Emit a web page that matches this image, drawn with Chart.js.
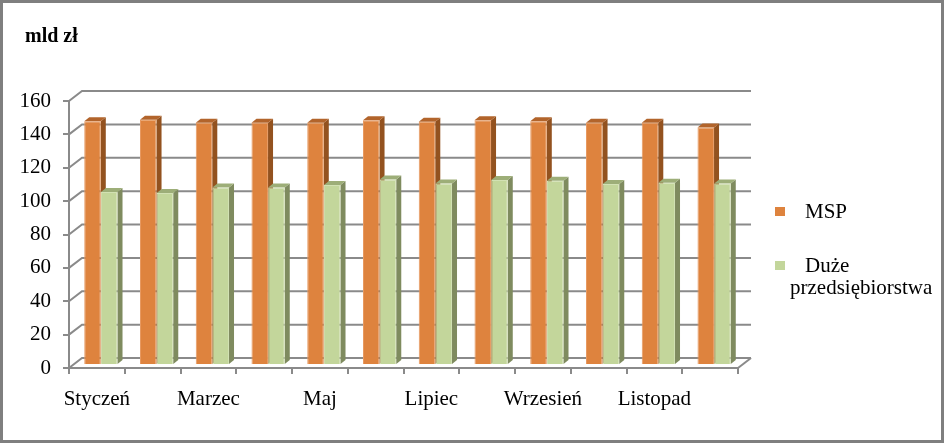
<!DOCTYPE html>
<html lang="pl">
<head>
<meta charset="UTF-8">
<title>MSP i duże przedsiębiorstwa</title>
<script src="https://cdn.jsdelivr.net/npm/chart.js"></script>
<style>
  body { margin: 0; background: #fff; }
  #ramka { position: relative; width: 946px; height: 445px; }
  #ramka canvas { position: absolute; left: 0; top: 0; }
  #obwod { position: absolute; left: 0; top: 0; width: 944px; height: 443px; box-sizing: border-box;
           border: 3px solid #7f7f7f; pointer-events: none; }
</style>
</head>
<body>
<div id="ramka">
  <canvas id="wykres" width="946" height="445"></canvas>
  <div id="obwod"></div>
</div>

<script>
  const miesiace = ['Styczeń', 'Luty', 'Marzec', 'Kwiecień', 'Maj', 'Czerwiec', 'Lipiec',
                    'Sierpień', 'Wrzesień', 'Październik', 'Listopad', 'Grudzień'];
  const msp = [146.1, 146.9, 145.1, 145.1, 145.1, 146.7, 145.7, 146.7, 146.1, 145.1, 145.1, 142.3];
  const duze = [103.6, 103.0, 106.4, 106.4, 107.8, 111.2, 108.8, 110.8, 110.4, 108.4, 109.2, 108.8];
  const osY = [0, 20, 40, 60, 80, 100, 120, 140, 160];

  const szary = '#8a8a8a';
  const czcionka = '"Liberation Serif", "Times New Roman", serif';

  // kolory scian slupkow: przod, bok, gora
  const kolory = [
    { przod: '#de833e', bok: '#93521f', gora: '#b2642b', brzeg: '#e79a62' },
    { przod: '#c3d69b', bok: '#7f8b5f', gora: '#9dae78', brzeg: '#d2e1b3' }
  ];

  // przesuniecie sciany tylnej i slupkow (efekt 3D)
  const GL = 13, GD = 10;
  const PX = 4, PY = 3;
  const BX = 5, BY = 4;

  const sciany = {
    id: 'sciany',
    beforeDatasetsDraw(chart) {
      const ctx = chart.ctx, y = chart.scales.y, a = chart.chartArea;
      ctx.save();
      ctx.strokeStyle = szary;
      ctx.lineWidth = 2;
      osY.forEach(v => {
        const py = y.getPixelForValue(v);
        ctx.beginPath();
        ctx.moveTo(a.left, py);
        ctx.lineTo(a.left + GL, py - GD);
        ctx.lineTo(a.right + GL, py - GD);
        ctx.stroke();
      });
      ctx.beginPath();
      ctx.moveTo(a.right, a.bottom);
      ctx.lineTo(a.right + GL, a.bottom - GD);
      ctx.stroke();

      // slupki rysowane troche w glab
      ctx.translate(PX, -PY);
      for (let i = 0; i < miesiace.length; i++) {
        chart.data.datasets.forEach((ds, d) => {
          const el = chart.getDatasetMeta(d).data[i];
          const p = el.getProps(['x', 'y', 'base', 'width'], true);
          const l = p.x - p.width / 2, r = p.x + p.width / 2;
          ctx.fillStyle = kolory[d].bok;
          ctx.beginPath();
          ctx.moveTo(r, p.y);
          ctx.lineTo(r + BX, p.y - BY);
          ctx.lineTo(r + BX, p.base - BY);
          ctx.lineTo(r, p.base);
          ctx.closePath();
          ctx.fill();
          ctx.fillStyle = kolory[d].gora;
          ctx.beginPath();
          ctx.moveTo(l, p.y);
          ctx.lineTo(l + BX, p.y - BY);
          ctx.lineTo(r + BX, p.y - BY);
          ctx.lineTo(r, p.y);
          ctx.closePath();
          ctx.fill();
        });
      }
    },
    afterDatasetsDraw(chart) {
      chart.ctx.restore();
    },
    afterDraw(chart) {
      const ctx = chart.ctx;
      ctx.save();
      ctx.fillStyle = '#000';
      ctx.textBaseline = 'alphabetic';
      ctx.font = 'bold 20px ' + czcionka;
      ctx.fillText('mld zł', 25, 42);

      // legenda
      ctx.font = '21px ' + czcionka;
      ctx.fillStyle = kolory[0].przod;
      ctx.fillRect(775, 207, 10, 9);
      ctx.fillStyle = kolory[1].przod;
      ctx.fillRect(775, 261, 10, 9);
      ctx.fillStyle = '#000';
      ctx.fillText(chart.data.datasets[0].label, 805, 218);
      const slowa = chart.data.datasets[1].label.split(' ');
      ctx.fillText(slowa[0], 805, 271.5);
      ctx.fillText(slowa[1], 790, 293.5);
      ctx.restore();
    }
  };

  const ctx = document.getElementById('wykres').getContext('2d');
  const wykres = new Chart(ctx, {
    type: 'bar',
    data: {
      labels: miesiace,
      datasets: [{
        label: 'MSP',
        data: msp,
        backgroundColor: kolory[0].przod,
        borderColor: kolory[0].brzeg,
        borderWidth: 1,
        categoryPercentage: 0.6,
        barPercentage: 0.99
      }, {
        label: 'Duże przedsiębiorstwa',
        data: duze,
        backgroundColor: kolory[1].przod,
        borderColor: kolory[1].brzeg,
        borderWidth: 1,
        categoryPercentage: 0.6,
        barPercentage: 0.99
      }]
    },
    options: {
      responsive: false,
      animation: false,
      layout: { padding: { left: 0, top: 101, right: 208, bottom: 0 } },
      plugins: {
        legend: { display: false },
        tooltip: { enabled: false }
      },
      scales: {
        x: {
          ticks: {
            autoSkip: false,
            maxRotation: 0,
            padding: 13,
            color: '#000',
            font: { family: czcionka, size: 21 },
            callback(v, i) { return i % 2 === 0 ? this.getLabelForValue(v) : ''; }
          },
          grid: { drawOnChartArea: false, offset: true, tickLength: 6, color: szary, lineWidth: 2 },
          border: { display: true, color: szary, width: 2 },
          afterFit(s) { s.height = 77; }
        },
        y: {
          min: osY[0],
          max: osY[osY.length - 1],
          ticks: {
            stepSize: 20,
            padding: 12,
            color: '#000',
            font: { family: czcionka, size: 21 }
          },
          grid: { drawOnChartArea: false, tickLength: 6, color: szary, lineWidth: 2 },
          border: { display: true, color: szary, width: 2 },
          afterFit(s) { s.width = 69; }
        }
      }
    },
    plugins: [sciany]
  });
</script>
</body>
</html>
